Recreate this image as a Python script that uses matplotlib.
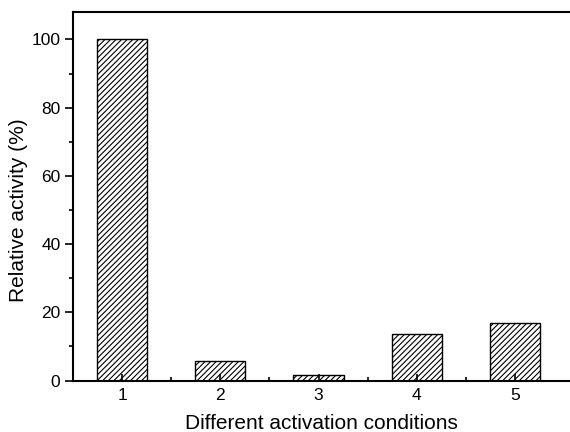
import matplotlib
matplotlib.use("Agg")
import matplotlib.pyplot as plt
from matplotlib.ticker import MultipleLocator, FixedLocator

plt.rcParams['font.family'] = ['Liberation Sans', 'DejaVu Sans']
plt.rcParams['hatch.linewidth'] = 0.8

# bar data
conditions = [1, 2, 3, 4, 5]
activity = [100, 5.8, 1.7, 13.7, 16.8]

fig = plt.figure(figsize=(5.7, 4.32), dpi=100)
ax = fig.add_axes([0.128, 0.119, 0.872, 0.853])

ax.bar(conditions, activity, width=0.51, color='white', edgecolor='black',
       hatch='//////', linewidth=1.0)

ax.set_xlim(0.5, 5.56)
ax.set_ylim(0, 108)
ax.set_xticks(conditions)
ax.xaxis.set_minor_locator(FixedLocator([1.5, 2.5, 3.5, 4.5]))
ax.yaxis.set_major_locator(MultipleLocator(20))
ax.yaxis.set_minor_locator(MultipleLocator(10))

ax.tick_params(axis='x', which='major', direction='in', length=5, width=1.2,
               labelsize=12.5, pad=5)
ax.tick_params(axis='x', which='minor', direction='in', length=3, width=1.2)
ax.tick_params(axis='y', which='major', direction='out', length=6, width=1.2,
               labelsize=12.5, pad=3)
ax.tick_params(axis='y', which='minor', direction='out', length=3, width=1.2)

for side in ['left', 'bottom', 'top']:
    ax.spines[side].set_linewidth(1.5)
ax.spines['right'].set_visible(False)

ax.set_xlabel('Different activation conditions', fontsize=15, labelpad=8)
ax.set_ylabel('Relative activity (%)', fontsize=15)
# label sits a bit below the axes centre in the original
ax.yaxis.set_label_coords(0.049, 0.514, transform=fig.transFigure)

fig.savefig('out.png', dpi=100)
